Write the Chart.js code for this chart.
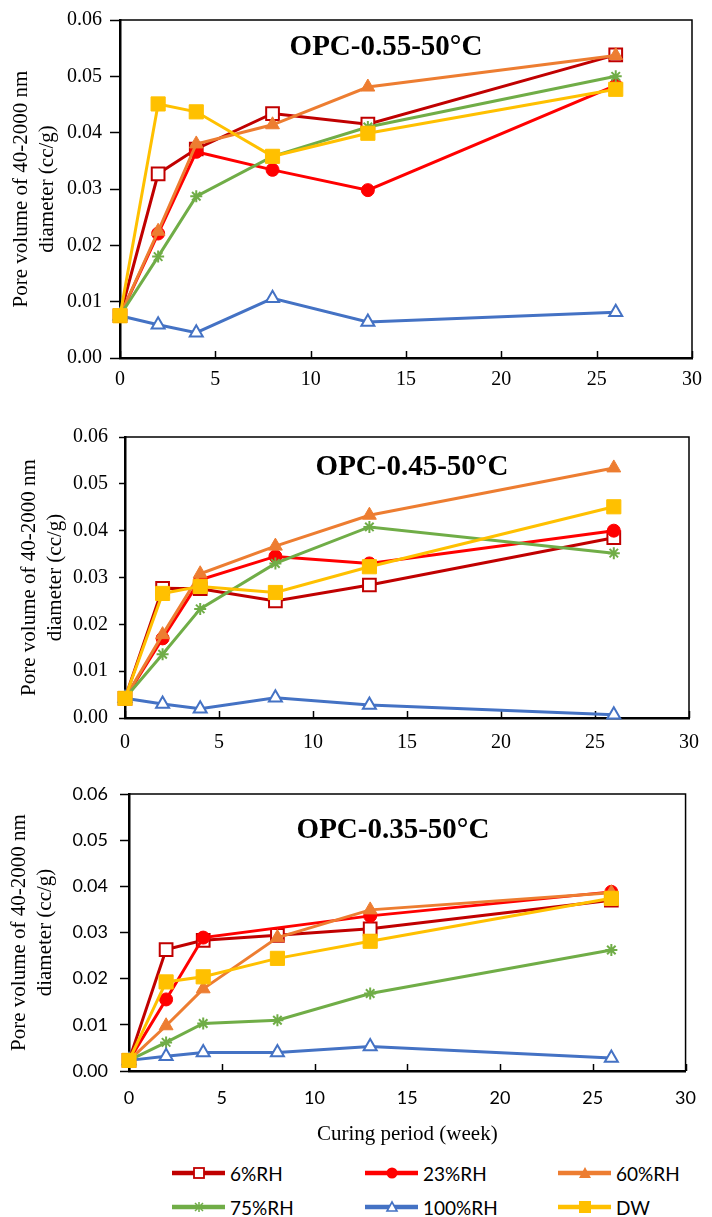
<!DOCTYPE html>
<html>
<head>
<meta charset="utf-8">
<script src="https://cdn.jsdelivr.net/npm/chart.js@4.4.0/dist/chart.umd.min.js"></script>
<style>
  body { margin: 0; background: #fff; }
  #wrap { position: relative; width: 712px; height: 1217px; background: #fff; }
  #wrap canvas { position: absolute; left: 0; }
  .leg { position: absolute; display: flex; align-items: center; height: 22px;
         font-family: Lato, "Noto Sans", sans-serif; font-size: 19px; color: #000; }
  .leg svg { margin-right: 4px; }
</style>
</head>
<body>
<div id="wrap">
  <canvas id="c1" width="712" height="392" style="top:0px"></canvas>
  <canvas id="c2" width="712" height="365" style="top:392px"></canvas>
  <canvas id="c3" width="712" height="400" style="top:757px"></canvas>
</div>
<script>
// curing period (week)
const weeks = [0, 2, 4, 8, 13, 26];
const xTicks = [0, 5, 10, 15, 20, 25, 30];
const yTicks = [0, 0.01, 0.02, 0.03, 0.04, 0.05, 0.06];

const seriesNames = ["6%RH", "23%RH", "60%RH", "75%RH", "100%RH", "DW"];

// OPC-0.55-50°C
const rh6_055 = [0.0075, 0.0327, 0.0371, 0.0434, 0.0415, 0.0538];
const rh23_055 = [0.0075, 0.0221, 0.0366, 0.0334, 0.0298, 0.0484];
const rh60_055 = [0.0075, 0.0225, 0.0380, 0.0414, 0.0481, 0.0537];
const rh75_055 = [0.0075, 0.0180, 0.0287, 0.0358, 0.0410, 0.0500];
const rh100_055 = [0.0075, 0.0059, 0.0045, 0.0106, 0.0064, 0.0081];
const dw_055 = [0.0075, 0.0451, 0.0437, 0.0358, 0.0399, 0.0477];

// OPC-0.45-50°C
const rh6_045 = [0.0042, 0.0277, 0.0276, 0.0250, 0.0284, 0.0385];
const rh23_045 = [0.0042, 0.0170, 0.0295, 0.0345, 0.0330, 0.0400];
const rh60_045 = [0.0042, 0.0178, 0.0308, 0.0367, 0.0433, 0.0534];
const rh75_045 = [0.0042, 0.0136, 0.0233, 0.0330, 0.0408, 0.0352];
const rh100_045 = [0.0042, 0.0030, 0.0020, 0.0043, 0.0028, 0.0007];
const dw_045 = [0.0042, 0.0266, 0.0281, 0.0268, 0.0323, 0.0451];

// OPC-0.35-50°C (no 23%RH marker at week 8)
const rh6_035 = [0.0023, 0.0263, 0.0283, 0.0294, 0.0308, 0.0370];
const rh23_035 = [0.0023, 0.0155, 0.0289, null, 0.0336, 0.0388];
const rh60_035 = [0.0023, 0.0098, 0.0178, 0.0289, 0.0349, 0.0386];
const rh75_035 = [0.0023, 0.0062, 0.0103, 0.0110, 0.0168, 0.0262];
const rh100_035 = [0.0023, 0.0032, 0.0040, 0.0040, 0.0053, 0.0028];
const dw_035 = [0.0023, 0.0193, 0.0204, 0.0244, 0.0281, 0.0374];

// series look
const seriesColors = ["#C00000", "#FF0000", "#ED7D31", "#70AD47", "#4472C4", "#FFC000"];
const pointStyles = ["rect", "circle", "triangle", "star", "triangle", "rect"];
const pointFilled = [false, true, true, true, false, true];
const pointSizes = [9, 6.5, 8, 6, 7.5, 10];

const SERIF = "'Liberation Serif', 'Times New Roman', serif";
const SANS = "Lato, 'Noto Sans', sans-serif";

// top/right frame, inside x ticks, panel label
const framePlugin = {
  id: "frame",
  beforeDatasetsDraw(chart, args, opts) {
    const { ctx, chartArea: a } = chart;
    const xs = chart.scales.x;
    ctx.save();
    ctx.strokeStyle = "#000";
    ctx.lineWidth = 1.5;
    ctx.beginPath();
    ctx.moveTo(a.left, a.top);
    ctx.lineTo(a.right, a.top);
    ctx.lineTo(a.right, a.bottom);
    ctx.stroke();

    ctx.lineWidth = 1.5;
    xs.ticks.forEach((t) => {
      const px = Math.round(xs.getPixelForValue(t.value)) + 0.5;
      ctx.beginPath();
      ctx.moveTo(px, a.bottom);
      ctx.lineTo(px, a.bottom - 7);
      ctx.stroke();
    });

    ctx.fillStyle = "#000";
    ctx.font = "bold 29px " + SERIF;
    ctx.textAlign = "center";
    ctx.textBaseline = "middle";
    ctx.fillText(opts.text, opts.x, opts.y);
    ctx.restore();
  },
};

function makeChart(id, series, p) {
  const datasets = series.map((vals, i) => ({
    label: seriesNames[i],
    data: weeks.map((w, j) => ({ x: w, y: vals[j] })),
    borderColor: seriesColors[i],
    backgroundColor: seriesColors[i],
    borderWidth: 3,
    pointStyle: pointStyles[i],
    pointRadius: pointSizes[i],
    pointHoverRadius: pointSizes[i],
    pointBackgroundColor: pointFilled[i] ? seriesColors[i] : "#fff",
    pointBorderColor: seriesColors[i],
    pointBorderWidth: pointFilled[i] && pointStyles[i] !== "star" ? 1 : 2,
    tension: 0,
    spanGaps: true,
    clip: false,
    order: series.length - i,
  }));

  return new Chart(document.getElementById(id), {
    type: "line",
    data: { datasets },
    plugins: [framePlugin],
    options: {
      responsive: false,
      animation: false,
      devicePixelRatio: 1,
      layout: { padding: { top: p.top, right: p.right, left: 0, bottom: 0 } },
      plugins: {
        legend: { display: false },
        tooltip: { enabled: false },
        frame: { text: p.title, x: p.titleX, y: p.titleY },
      },
      scales: {
        x: {
          type: "linear",
          min: 0,
          max: 30,
          afterBuildTicks: (s) => { s.ticks = xTicks.map((v) => ({ value: v })); },
          afterFit: (s) => { s.height = p.xHeight; },
          border: { display: true, color: "#000", width: 2.5 },
          grid: { drawOnChartArea: false, drawTicks: false },
          ticks: { color: "#000", padding: p.xPad, font: { family: p.tickFont, size: p.tickSize } },
          title: {
            display: !!p.xTitle,
            text: p.xTitle || "",
            color: "#000",
            font: { family: SERIF, size: 21, lineHeight: 1.25 },
            padding: { top: 0, bottom: 9 },
          },
        },
        y: {
          min: 0,
          max: 0.06,
          afterBuildTicks: (s) => { s.ticks = yTicks.map((v) => ({ value: v })); },
          afterFit: (s) => { s.width = p.yWidth; },
          border: { display: true, color: "#000", width: 2.5 },
          grid: { drawOnChartArea: false, drawTicks: true, tickLength: p.yTickLen, tickColor: "#000", tickWidth: 1.5 },
          ticks: {
            color: "#000",
            padding: p.yPad,
            font: { family: p.tickFont, size: p.tickSize },
            callback: (v) => Number(v).toFixed(2),
          },
          title: {
            display: true,
            text: ["Pore volume of 40-2000 nm", "diameter (cc/g)"],
            color: "#000",
            font: { family: SERIF, size: 21, lineHeight: 1.25 },
            padding: { top: p.yTitlePad, bottom: 0 },
          },
        },
      },
    },
  });
}

makeChart("c1", [rh6_055, rh23_055, rh60_055, rh75_055, rh100_055, dw_055], {
  top: 16, right: 13, yWidth: 120, xHeight: 34, yTickLen: 10, yPad: 8, xPad: 10,
  tickFont: SERIF, tickSize: 20, yTitlePad: 8,
  title: "OPC-0.55-50°C", titleX: 386, titleY: 48,
});

makeChart("c2", [rh6_045, rh23_045, rh60_045, rh75_045, rh100_045, dw_045], {
  top: 45, right: 11, yWidth: 125, xHeight: 39, yTickLen: 6, yPad: 11, xPad: 13,
  tickFont: SERIF, tickSize: 20, yTitlePad: 16,
  title: "OPC-0.45-50°C", titleX: 412, titleY: 76,
});

makeChart("c3", [rh6_035, rh23_035, rh60_035, rh75_035, rh100_035, dw_035], {
  top: 37, right: 12, yWidth: 129, xHeight: 86, yTickLen: 9, yPad: 12, xPad: 16,
  tickFont: SANS, tickSize: 18, yTitlePad: 6,
  title: "OPC-0.35-50°C", titleX: 393, titleY: 74,
  xTitle: "Curing period (week)",
});

// legend below the last panel
function markerSvg(i) {
  const c = seriesColors[i];
  const cx = 27, cy = 11;
  let m = "";
  if (i === 0) m = `<rect x="${cx - 5}" y="${cy - 5}" width="10" height="10" fill="#fff" stroke="${c}" stroke-width="1.8"/>`;
  if (i === 1) m = `<circle cx="${cx}" cy="${cy}" r="5.5" fill="${c}"/>`;
  if (i === 2) m = `<polygon points="${cx},${cy - 6} ${cx + 6},${cy + 5} ${cx - 6},${cy + 5}" fill="${c}"/>`;
  if (i === 3) m = `<path d="M${cx - 4} ${cy - 4}L${cx + 4} ${cy + 4}M${cx + 4} ${cy - 4}L${cx - 4} ${cy + 4}M${cx} ${cy - 5}L${cx} ${cy + 5}" stroke="${c}" stroke-width="1.5"/>`;
  if (i === 4) m = `<polygon points="${cx},${cy - 5} ${cx + 5},${cy + 4} ${cx - 5},${cy + 4}" fill="#fff" stroke="${c}" stroke-width="1.6"/>`;
  if (i === 5) m = `<rect x="${cx - 6}" y="${cy - 6}" width="12" height="12" fill="${c}"/>`;
  return `<svg width="54" height="22"><line x1="0" y1="${cy}" x2="53" y2="${cy}" stroke="${c}" stroke-width="4.5"/>${m}</svg>`;
}

const legendColX = [172, 365, 558];
const legendRowY = [1173, 1207];
const wrap = document.getElementById("wrap");
seriesNames.forEach((name, i) => {
  const d = document.createElement("div");
  d.className = "leg";
  d.style.left = legendColX[i % 3] + "px";
  d.style.top = legendRowY[Math.floor(i / 3)] - 11 + "px";
  d.innerHTML = markerSvg(i) + "<span>" + name + "</span>";
  wrap.appendChild(d);
});
</script>
</body>
</html>
